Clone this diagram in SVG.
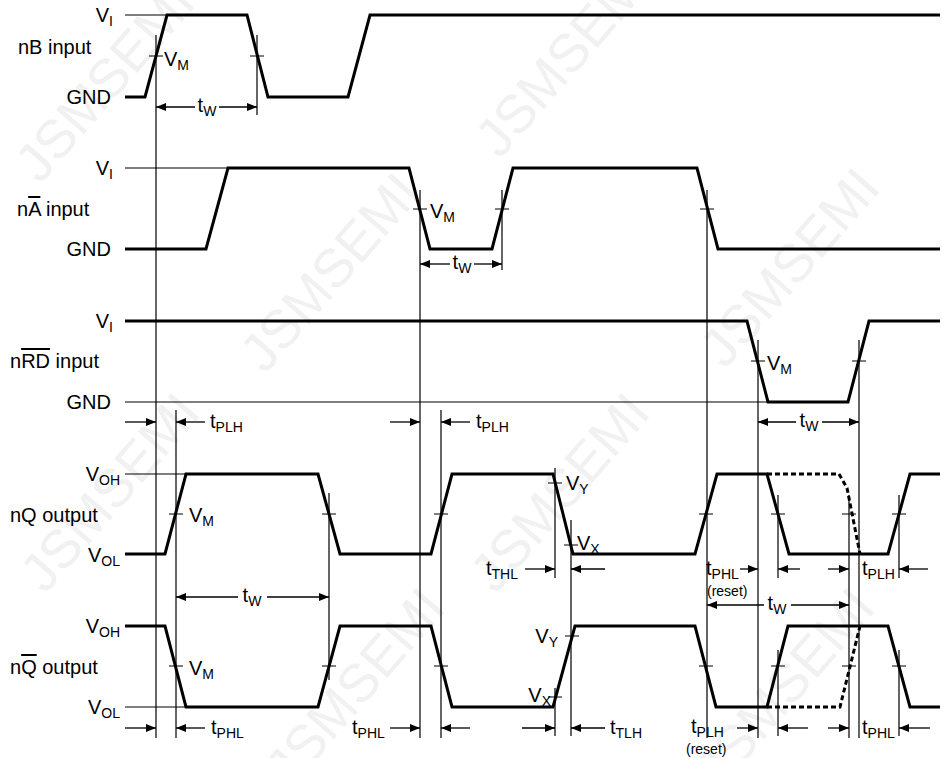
<svg xmlns="http://www.w3.org/2000/svg" width="945" height="758" viewBox="0 0 945 758">
<defs>
<style>
.w{stroke:#000;stroke-width:3;fill:none;stroke-linejoin:miter}
.d{stroke:#000;stroke-width:3;fill:none;stroke-dasharray:5 3}
.r{stroke:#000;stroke-width:1.2;fill:none}
.a{stroke:#000;stroke-width:1.3;fill:none;marker-end:url(#ah)}
.t{font-family:"Liberation Sans",Arial,sans-serif;font-size:20px;fill:#000}
.e{text-anchor:end}
.m{text-anchor:middle}
.s{font-size:14px}
.sm{font-family:"Liberation Sans",Arial,sans-serif;font-size:14px;fill:#000}
.wm{font-family:"Liberation Sans",Arial,sans-serif;font-size:54px;fill:#f1f1f1}
</style>
<marker id="ah" viewBox="0 0 10 8" refX="10" refY="4" markerWidth="10" markerHeight="8" markerUnits="userSpaceOnUse" orient="auto"><path d="M0,0 L10,4 L0,8 z" fill="#000"/></marker>
</defs>
<rect width="945" height="758" fill="#fff"/>
<g id="watermark" class="wm">
<text transform="translate(40,185) rotate(-49)">JSMSEMI</text>
<text transform="translate(500,160) rotate(-49)">JSMSEMI</text>
<text transform="translate(265,375) rotate(-49)">JSMSEMI</text>
<text transform="translate(725,370) rotate(-49)">JSMSEMI</text>
<text transform="translate(45,595) rotate(-49)">JSMSEMI</text>
<text transform="translate(495,595) rotate(-49)">JSMSEMI</text>
<text transform="translate(290,790) rotate(-49)">JSMSEMI</text>
<text transform="translate(720,790) rotate(-49)">JSMSEMI</text>
</g>
<g id="nB">
<text class="t" x="18" y="54">nB input</text>
<text class="t e" x="113" y="22">V<tspan class="s" dy="4">I</tspan></text>
<text class="t e" x="111" y="104">GND</text>
<line class="r" x1="125" y1="15" x2="167" y2="15"/>
<path class="w" d="M125,97 L145,97 L167,15 L247,15 L268,97 L348,97 L370,15 L940,15"/>
<text class="t" x="164" y="66">V<tspan class="s" dy="4">M</tspan></text>
</g>
<g id="nA">
<text class="t" x="17" y="216">n<tspan style="text-decoration:overline">A</tspan> input</text>
<text class="t e" x="113" y="175">V<tspan class="s" dy="4">I</tspan></text>
<text class="t e" x="111" y="256">GND</text>
<line class="r" x1="125" y1="168" x2="228" y2="168"/>
<path class="w" d="M125,249 L206,249 L228,168 L409,168 L430,249 L492,249 L513,168 L697,168 L718,249 L940,249"/>
<text class="t" x="430" y="218">V<tspan class="s" dy="4">M</tspan></text>
</g>
<g id="nRD">
<text class="t" x="10" y="368">n<tspan style="text-decoration:overline">RD</tspan> input</text>
<text class="t e" x="113" y="328">V<tspan class="s" dy="4">I</tspan></text>
<text class="t e" x="111" y="409">GND</text>
<line class="r" x1="125" y1="402" x2="768" y2="402"/>
<path class="w" d="M125,321 L747,321 L768,402 L848,402 L869,321 L940,321"/>
<text class="t" x="767" y="370">V<tspan class="s" dy="4">M</tspan></text>
</g>
<g id="nQ">
<text class="t" x="10" y="522">nQ output</text>
<text class="t e" x="120" y="481">V<tspan class="s" dy="4">OH</tspan></text>
<text class="t e" x="120" y="562">V<tspan class="s" dy="4">OL</tspan></text>
<line class="r" x1="125" y1="474" x2="186" y2="474"/>
<path class="w" d="M125,554 L165,554 L186,474 L318,474 L340,554 L431,554 L452,474 L553,474 L573,554 L695,554 L717,474 L767,474 L789,554 L888,554 L910,474 L940,474"/>
<path class="d" d="M767,474 L839,474 L847,488 L860,554"/>
<text class="t" x="189" y="522">V<tspan class="s" dy="4">M</tspan></text>
<text class="t" x="566" y="490">V<tspan class="s" dy="4">Y</tspan></text>
<text class="t" x="577" y="550">V<tspan class="s" dy="4">X</tspan></text>
</g>
<g id="nQbar">
<text class="t" x="10" y="674">n<tspan style="text-decoration:overline">Q</tspan> output</text>
<text class="t e" x="120" y="633">V<tspan class="s" dy="4">OH</tspan></text>
<text class="t e" x="120" y="714">V<tspan class="s" dy="4">OL</tspan></text>
<line class="r" x1="125" y1="707" x2="186" y2="707"/>
<path class="w" d="M125,626 L165,626 L186,707 L318,707 L340,626 L431,626 L452,707 L553,707 L575,626 L695,626 L716,707 L767,707 L788,626 L888,626 L910,707 L940,707"/>
<path class="d" d="M767,707 L840,707 L860,626"/>
<text class="t" x="189" y="675">V<tspan class="s" dy="4">M</tspan></text>
<text class="t e" x="558" y="643">V<tspan class="s" dy="4">Y</tspan></text>
<text class="t e" x="551" y="702">V<tspan class="s" dy="4">X</tspan></text>
</g>
<g id="connectors">
<g id="ticks" class="r">
<path d="M149,56h14M250,56h14M413,209h14M495,209h14M700,209h14M751,361h14M852,361h14"/>
<path d="M169,514h14M322,514h14M434,514h14M699,514h14M771,514h14M842,514h14M892,514h14M548,483h14M564,545h14"/>
<path d="M169,666h14M322,666h14M434,666h14M699,666h14M771,666h14M842,666h14M892,666h14M548,697h14M565,636h14"/>
</g>
<g id="verticals" class="r">
<path d="M156,35V738M257,35V115M420,190V738M502,190V270M707,190V738M758,340V738M859,340V738"/>
<path d="M176,410V738M441,410V738M329,493V680M555,468V578M555,688V736M571,520V736"/>
<path d="M778,495V578M778,650V736M849,495V738M899,495V578M899,650V736"/>
</g>
<g id="arrows">
<path class="a" d="M195,107H156"/><path class="a" d="M219,107H257"/>
<path class="a" d="M450,264H420"/><path class="a" d="M474,264H502"/>
<path class="a" d="M125,422H156"/><path class="a" d="M205,422H176"/>
<path class="a" d="M390,422H420"/><path class="a" d="M470,422H441"/>
<path class="a" d="M796,422H758"/><path class="a" d="M822,422H859"/>
<path class="a" d="M525,569H555"/><path class="a" d="M605,569H571"/>
<path class="a" d="M740,569H758"/><path class="a" d="M800,569H778"/>
<path class="a" d="M828,569H849"/><path class="a" d="M928,569H899"/>
<path class="a" d="M238,597H176"/><path class="a" d="M267,597H329"/>
<path class="a" d="M764,605H707"/><path class="a" d="M791,605H849"/>
<path class="a" d="M125,728H156"/><path class="a" d="M205,728H176"/>
<path class="a" d="M390,728H420"/><path class="a" d="M470,728H441"/>
<path class="a" d="M522,728H555"/><path class="a" d="M605,728H571"/>
<path class="a" d="M737,728H758"/><path class="a" d="M808,728H778"/>
<path class="a" d="M828,728H849"/><path class="a" d="M930,728H899"/>
</g>
<g id="labels" class="t">
<text class="m" x="207" y="112">t<tspan class="s" dy="4">W</tspan></text>
<text class="m" x="462" y="269">t<tspan class="s" dy="4">W</tspan></text>
<text x="210" y="428">t<tspan class="s" dy="4">PLH</tspan></text>
<text x="476" y="428">t<tspan class="s" dy="4">PLH</tspan></text>
<text class="m" x="809" y="427">t<tspan class="s" dy="4">W</tspan></text>
<text x="486" y="575">t<tspan class="s" dy="4">THL</tspan></text>
<text x="706" y="575">t<tspan class="s" dy="4">PHL</tspan></text>
<text x="862" y="575">t<tspan class="s" dy="4">PLH</tspan></text>
<text class="m" x="252" y="602">t<tspan class="s" dy="4">W</tspan></text>
<text class="m" x="777" y="610">t<tspan class="s" dy="4">W</tspan></text>
<text x="211" y="734">t<tspan class="s" dy="4">PHL</tspan></text>
<text x="352" y="734">t<tspan class="s" dy="4">PHL</tspan></text>
<text x="610" y="734">t<tspan class="s" dy="4">TLH</tspan></text>
<text x="691" y="733">t<tspan class="s" dy="4">PLH</tspan></text>
<text x="862" y="734">t<tspan class="s" dy="4">PHL</tspan></text>
</g>
<text class="sm" x="707" y="596">(reset)</text>
<text class="sm" x="686" y="754">(reset)</text>
</g>
</svg>
